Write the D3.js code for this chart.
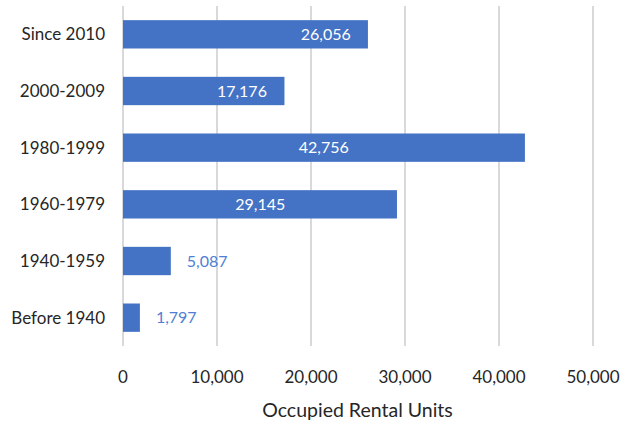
<!DOCTYPE html>
<html>
<head>
<meta charset="utf-8">
<script src="https://cdn.jsdelivr.net/npm/d3@7"></script>
<style>
  html, body { margin: 0; padding: 0; background: #fff; }
  svg { display: block; font-family: Lato, "Open Sans", sans-serif; }
</style>
</head>
<body>
<div id="chart"></div>
<script>
// Occupied rental units by year built — horizontal bars, Excel-style.

const categories = ["Since 2010", "2000-2009", "1980-1999", "1960-1979", "1940-1959", "Before 1940"];
const units = [26056, 17176, 42756, 29145, 5087, 1797];
// where each value label sits, in data units (null = just outside the bar end)
const labelAt = [21570, 12650, 21360, 14610, null, null];
const xTicks = [0, 10000, 20000, 30000, 40000, 50000];
const xTitle = "Occupied Rental Units";

const W = 640, H = 421;
const margin = { top: 6, right: 47, bottom: 75, left: 123 };

const svg = d3.select("#chart").append("svg")
  .attr("width", W).attr("height", H);

const x = d3.scaleLinear()
  .domain([0, 50000])
  .range([margin.left, W - margin.right]);

const y = d3.scaleBand()
  .domain(categories)
  .range([margin.top, H - margin.bottom])
  .paddingInner(0.5).paddingOuter(0.25);

const fmt = d3.format(",");

// Gridlines
svg.append("g").selectAll("line").data(xTicks).join("line")
  .attr("x1", d => x(d)).attr("x2", d => x(d))
  .attr("y1", margin.top).attr("y2", H - margin.bottom)
  .attr("stroke", "#d9d9d9").attr("stroke-width", 2);

// Bars
svg.append("g").selectAll("rect").data(units).join("rect")
  .attr("x", x(0))
  .attr("y", (d, i) => y(categories[i]))
  .attr("width", d => x(d) - x(0))
  .attr("height", y.bandwidth())
  .attr("fill", "#4472c4");

// Value labels
svg.append("g").selectAll("text").data(units).join("text")
  .attr("x", (d, i) => labelAt[i] == null ? x(d) + 16 : x(labelAt[i]))
  .attr("y", (d, i) => y(categories[i]) + y.bandwidth() / 2)
  .attr("dy", "0.35em")
  .attr("text-anchor", (d, i) => labelAt[i] == null ? "start" : "middle")
  .attr("font-size", 16)
  .attr("fill", (d, i) => labelAt[i] == null ? "#4f7fd4" : "#fff")
  .text(d => fmt(d));

// Category axis
svg.append("g").selectAll("text").data(categories).join("text")
  .attr("x", margin.left - 18)
  .attr("y", d => y(d) + y.bandwidth() / 2)
  .attr("dy", "0.35em")
  .attr("text-anchor", "end")
  .attr("font-size", 17)
  .attr("fill", "#262626")
  .text(d => d);

// Value axis
svg.append("g").selectAll("text").data(xTicks).join("text")
  .attr("x", d => x(d))
  .attr("y", 383)
  .attr("text-anchor", "middle")
  .attr("font-size", 17)
  .attr("fill", "#262626")
  .text(d => fmt(d));

svg.append("text")
  .attr("x", x(25000) - 0.5)
  .attr("y", 417)
  .attr("text-anchor", "middle")
  .attr("font-size", 19.5)
  .attr("fill", "#262626")
  .text(xTitle);
</script>
</body>
</html>
